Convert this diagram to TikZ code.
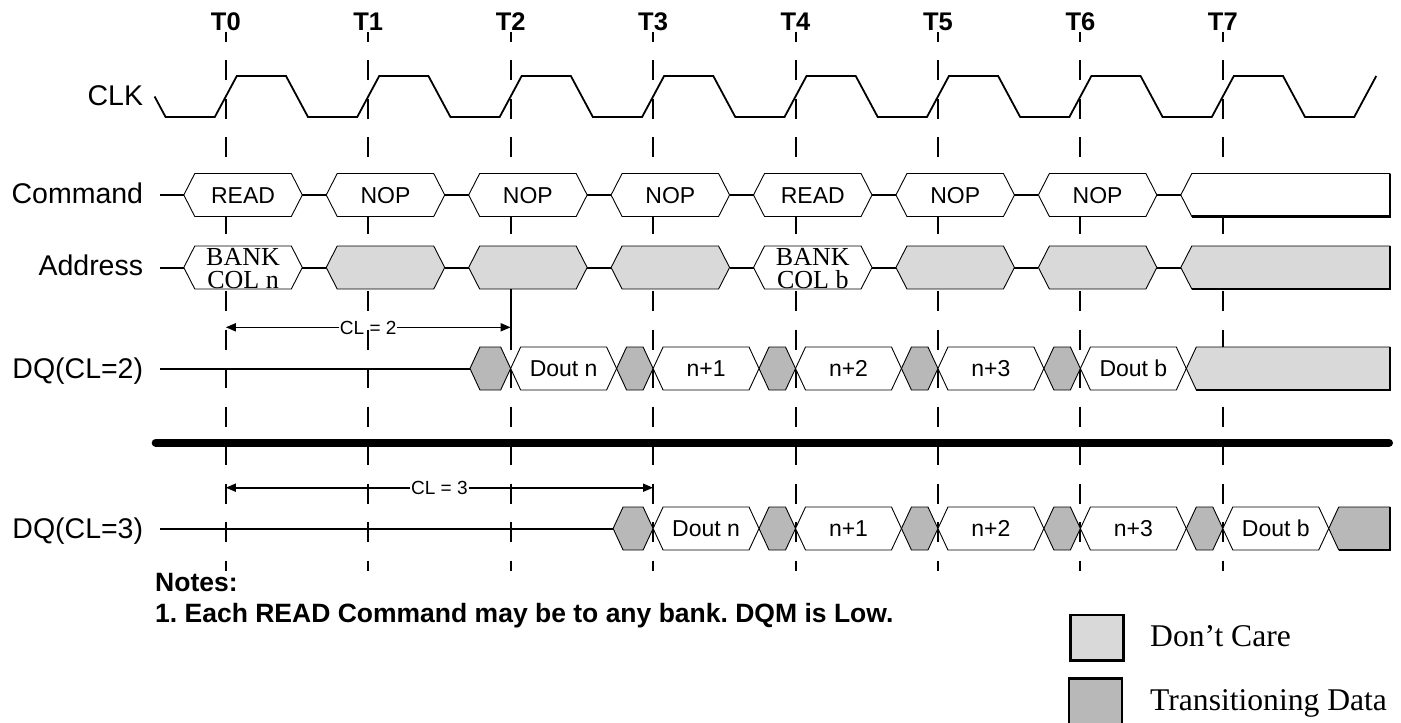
\documentclass[tikz,border=0pt]{standalone}
\usepackage{fontspec}
\setmainfont{Liberation Sans}
\newfontfamily\seriffam{Liberation Serif}
\usetikzlibrary{arrows.meta}
\definecolor{dcgray}{HTML}{D9D9D9}
\definecolor{trgray}{HTML}{B8B8B8}
\def\Tz{225.8}
\def\Pd{142.43}
\frenchspacing
\newcommand\hexshape[5]{\path[#1] ({#2},{#4}) -- ({#2+#5},{#4-21.5}) -- ({#3-#5},{#4-21.5}) -- ({#3},{#4}) -- ({#3-#5},{#4+21.5}) -- ({#2+#5},{#4+21.5}) -- cycle;}
\newcommand\openshape[5]{\path[#1] ({#2},{#3}) -- ({#2+#4},{#3-21.5}) -- ({#5},{#3-21.5}) -- ({#5},{#3+21.5}) -- ({#2+#4},{#3+21.5}) -- cycle;
  \draw[line width=2.6pt] ({#2+#4},{#3+21.5}) -- ({#5},{#3+21.5}) -- ({#5},{#3-21.5});}
\begin{document}
\begin{tikzpicture}[x=1pt,y=-1pt,
  tline/.style={line width=2pt, dash pattern=on 20pt off 18.5pt, dash phase=10.5pt},
  clk/.style={line width=1.8pt},
  bus/.style={line width=2pt},
  wbox/.style={draw, fill=white, line width=0.9pt},
  dcbox/.style={draw, fill=dcgray, line width=0.9pt},
  trbox/.style={draw, fill=trgray, line width=0.9pt},
  tlabel/.style={anchor=base, font=\fontsize{25.5}{28}\selectfont\bfseries, inner sep=0pt},
  siglabel/.style={anchor=base east, font=\fontsize{28.5}{32}\selectfont, inner sep=0pt},
  boxtxt/.style={anchor=base, font=\fontsize{23}{27}\selectfont, inner sep=0pt},
  addrtxt/.style={anchor=base, font=\seriffam\fontsize{26}{28}\selectfont, inner sep=0pt},
  cltxt/.style={anchor=base, font=\fontsize{19}{22}\selectfont, inner sep=0.6pt},
  arr/.style={line width=1.6pt, -{Triangle[length=10pt,width=8pt]}},
  notetxt/.style={anchor=base west, font=\fontsize{26.5}{30}\selectfont\bfseries, inner sep=0pt},
  legtxt/.style={anchor=base west, font=\seriffam\fontsize{31.6}{36}\selectfont, inner sep=0pt},
]
\useasboundingbox (0,0) rectangle (1401,723);

% time lines and labels
\foreach \k in {0,...,7}{
  \pgfmathsetmacro\xx{\Tz+\Pd*\k}
  \coordinate (tt\k) at (\xx,32);
  \coordinate (tb\k) at (\xx,571);
  \draw[tline] (tt\k) -- (tb\k);
  \node[tlabel] (tl\k) at (\xx,30) {T\k};
}

% signal names
\node[siglabel] (lclk) at (143.3,105) {CLK};
\node[siglabel] (lcmd) at (143.3,203.3) {Command};
\node[siglabel] (ladr) at (143.3,275) {Address};
\node[siglabel] (ldq2) at (143.3,378.3) {DQ(CL=2)};
\node[siglabel] (ldq3) at (143.3,538.3) {DQ(CL=3)};

% clock
\draw[clk] (154.6,96.5) -- (165.6,117)
  \foreach \k in {0,...,7}{ -- ({\Tz+\Pd*\k-11},117) -- ({\Tz+\Pd*\k+11},76) -- ({\Tz+\Pd*\k+60.2},76) -- ({\Tz+\Pd*\k+82.2},117)}
  -- ({\Tz+\Pd*8-11},117) -- ({\Tz+\Pd*8+11},76);

% command row
\coordinate (cmds) at (160,195);
\foreach \lab [count=\i from 0] in {READ,NOP,NOP,NOP,READ,NOP,NOP}{
  \pgfmathsetmacro\xx{\Tz+\Pd*\i}
  \hexshape{wbox}{\xx-42}{\xx+76.5}{195}{11}
  \coordinate (cmdL\i) at ({\xx-42},195);
  \coordinate (cmdR\i) at ({\xx+76.5},195);
  \node[boxtxt] (cmd\i) at ({\xx+17.25},203.3) {\lab};
}
\coordinate (cmdL7) at ({\Tz+\Pd*7-42},195);
\openshape{wbox}{\Tz+\Pd*7-42}{195}{11}{1390}
\draw[bus] (cmds) -- (cmdL0);
\foreach \i [evaluate=\i as \j using int(\i+1)] in {0,...,6}{\draw[bus] (cmdR\i) -- (cmdL\j);}

% address row
\coordinate (adrs) at (160,267.5);
\foreach \i in {0,...,6}{
  \pgfmathsetmacro\xx{\Tz+\Pd*\i}
  \coordinate (adrL\i) at ({\xx-42},267.5);
  \coordinate (adrR\i) at ({\xx+76.5},267.5);
}
\coordinate (adrL7) at ({\Tz+\Pd*7-42},267.5);
\foreach \i in {0,4}{\hexshape{wbox}{\Tz+\Pd*\i-42}{\Tz+\Pd*\i+76.5}{267.5}{11}}
\foreach \i in {1,2,3,5,6}{\hexshape{dcbox}{\Tz+\Pd*\i-42}{\Tz+\Pd*\i+76.5}{267.5}{11}}
\openshape{dcbox}{\Tz+\Pd*7-42}{267.5}{11}{1390}
\node[addrtxt] (adr0a) at ({\Tz+17.25},265) {BANK};
\node[addrtxt] (adr0b) at ({\Tz+17.25},288.3) {COL n};
\node[addrtxt] (adr4a) at ({\Tz+\Pd*4+17.25},265) {BANK};
\node[addrtxt] (adr4b) at ({\Tz+\Pd*4+17.25},288.3) {COL b};
\draw[bus] (adrs) -- (adrL0);
\foreach \i [evaluate=\i as \j using int(\i+1)] in {0,...,6}{\draw[bus] (adrR\i) -- (adrL\j);}

% DQ CL=2
\coordinate (d2s) at (160,368.5);
\coordinate (d2t) at ({\Tz+\Pd*2-40.7},368.5);
\draw[bus] (d2s) -- (d2t);
\hexshape{trbox}{\Tz+\Pd*2-40.7}{\Tz+\Pd*2}{368.5}{10}
\foreach \k in {3,...,6}{\hexshape{trbox}{\Tz+\Pd*\k-36.5}{\Tz+\Pd*\k}{368.5}{10}}
\foreach \lab [count=\k from 2] in {Dout n,n+1,n+2,n+3,Dout b}{
  \pgfmathsetmacro\xx{\Tz+\Pd*\k}
  \hexshape{wbox}{\xx}{\xx+\Pd-36.5}{368.5}{10}
  \node[boxtxt] (dqa\k) at ({\xx+53},376.8) {\lab};
}
\openshape{dcbox}{\Tz+\Pd*7-36.5}{368.5}{10}{1390}

% DQ CL=3
\coordinate (d3s) at (160,528.5);
\coordinate (d3t) at ({\Tz+\Pd*3-40},528.5);
\draw[bus] (d3s) -- (d3t);
\hexshape{trbox}{\Tz+\Pd*3-40}{\Tz+\Pd*3}{528.5}{10}
\foreach \k in {4,...,7}{\hexshape{trbox}{\Tz+\Pd*\k-36.5}{\Tz+\Pd*\k}{528.5}{10}}
\foreach \lab [count=\k from 3] in {Dout n,n+1,n+2,n+3,Dout b}{
  \pgfmathsetmacro\xx{\Tz+\Pd*\k}
  \hexshape{wbox}{\xx}{\xx+\Pd-36.5}{528.5}{10}
  \node[boxtxt] (dqb\k) at ({\xx+53},536.8) {\lab};
}
\openshape{trbox}{\Tz+\Pd*8-36.5}{528.5}{10}{1390}

% CL = 2 arrow
\coordinate (a2l) at (\Tz,327.3);
\coordinate (a2r) at ({\Tz+\Pd*2},327.3);
\node[cltxt] (cl2) at ({\Tz+\Pd},334.1) {CL = 2};
\draw[arr] (cl2.west |- a2l) -- (a2l);
\draw[arr] (cl2.east |- a2r) -- (a2r);
\coordinate (e2t) at ({\Tz+\Pd*2},289);
\coordinate (e2b) at ({\Tz+\Pd*2},347);
\draw[line width=2pt] (e2t) -- (e2b);

% CL = 3 arrow
\coordinate (a3l) at (\Tz,487.7);
\coordinate (a3r) at ({\Tz+\Pd*3},487.7);
\node[cltxt] (cl3) at ({\Tz+\Pd*1.5},494.5) {CL = 3};
\draw[arr] (cl3.west |- a3l) -- (a3l);
\draw[arr] (cl3.east |- a3r) -- (a3r);

% separator
\coordinate (sepL) at (155.7,442.7);
\coordinate (sepR) at (1389,442.7);
\draw[line width=8pt, line cap=round] (sepL) -- (sepR);

% notes
\node[notetxt] (notes) at (155,591.7) {Notes:};
\node[notetxt] (note1) at (155,622) {1. Each READ Command may be to any bank. DQM is Low.};

% legend
\node[draw, fill=dcgray, line width=2.4pt, minimum width=53pt, minimum height=45.3pt, inner sep=0pt, anchor=north west] (legdc) at (1069.3,614) {};
\fill[trgray] (1068.7,678.3) rectangle (1121.7,723);
\coordinate (lgA) at (1068.7,723);
\coordinate (lgB) at (1068.7,678.3);
\coordinate (lgC) at (1121.7,678.3);
\coordinate (lgD) at (1121.7,723);
\draw[line width=2.4pt] (lgA) -- (lgB) -- (lgC) -- (lgD);
\node[legtxt] (legdct) at (1150,646.7) {Don’t Care};
\node[legtxt] (legtrt) at (1150,710.7) {Transitioning Data};
\end{tikzpicture}
\end{document}
